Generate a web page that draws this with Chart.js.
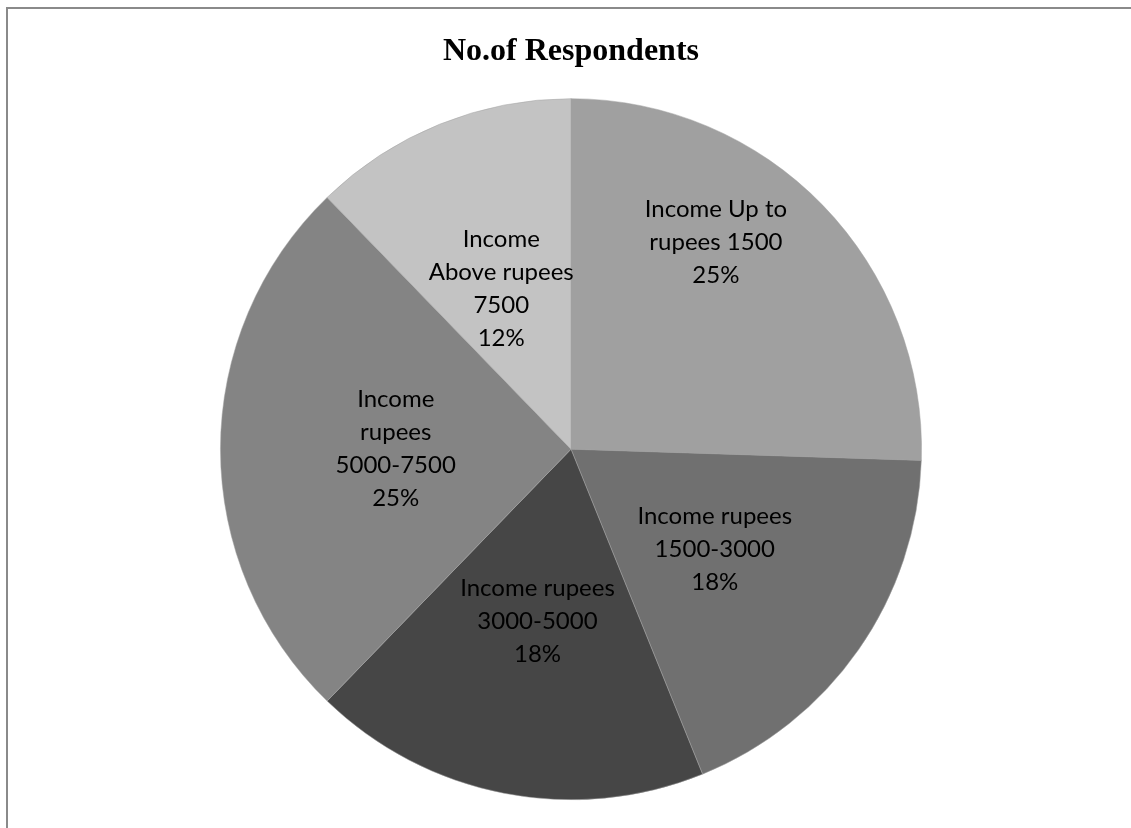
<!DOCTYPE html>
<html>
<head>
<meta charset="utf-8">
<title>No.of Respondents</title>
<script src="https://cdn.jsdelivr.net/npm/chart.js@4.4.1/dist/chart.umd.min.js"></script>
<style>
  html, body { margin: 0; padding: 0; background: #fff; overflow: hidden; }
  .frame {
    position: absolute; left: 6px; top: 7px; width: 1200px; height: 900px;
    border-left: 2px solid #8a8a8a; border-top: 2px solid #8a8a8a;
  }
  #pieChart { position: absolute; left: 0; top: 0; }
</style>
</head>
<body>
<div class="frame"></div>
<canvas id="pieChart" width="1131" height="828"></canvas>
<script>
// income groups, clockwise from 12 o'clock
const categories = [
  ['Income Up to', 'rupees 1500'],
  ['Income rupees', '1500-3000'],
  ['Income rupees', '3000-5000'],
  ['Income', 'rupees', '5000-7500'],
  ['Income', 'Above rupees', '7500']
];
const respondents = [25, 18, 18, 25, 12];
const sliceColors = ['#a0a0a0', '#707070', '#464646', '#848484', '#c3c3c3'];

// label text inside each slice: name lines + percentage
const sliceLabels = {
  id: 'sliceLabels',
  afterDatasetsDraw(chart, args, opts) {
    const ctx = chart.ctx;
    const meta = chart.getDatasetMeta(0);
    ctx.save();
    ctx.font = opts.font;
    ctx.fillStyle = '#000';
    ctx.textAlign = 'center';
    ctx.textBaseline = 'middle';
    meta.data.forEach((arc, i) => {
      const mid = (arc.startAngle + arc.endAngle) / 2;
      const r = arc.outerRadius * 0.5;
      const nudge = opts.nudge[i] || [0, 0];
      const x = arc.x + Math.cos(mid) * r + nudge[0];
      const y = arc.y + Math.sin(mid) * r + nudge[1];
      const lines = categories[i].concat([respondents[i] + '%']);
      const top = y - (lines.length - 1) * opts.lineHeight / 2;
      lines.forEach((t, k) => ctx.fillText(t, x, top + k * opts.lineHeight));
    });
    ctx.restore();
  }
};

new Chart(document.getElementById('pieChart'), {
  type: 'pie',
  data: {
    labels: categories.map(c => c.join(' ')),
    datasets: [{
      data: respondents,
      backgroundColor: sliceColors,
      borderColor: '#a2a2a2',
      borderWidth: 0.5
    }]
  },
  options: {
    responsive: false,
    animation: false,
    layout: { padding: { left: 11, right: 0, top: 0, bottom: 28 } },
    plugins: {
      legend: { display: false },
      tooltip: { enabled: false },
      title: {
        display: true,
        text: 'No.of Respondents',
        color: '#000',
        font: { family: '"Liberation Serif", "Times New Roman", serif', size: 32, weight: 'bold' },
        padding: { top: 33, bottom: 27 }
      },
      sliceLabels: {
        font: '24px Lato, "Open Sans", sans-serif',
        lineHeight: 33,
        nudge: [[19, -85], [0, 0], [0, 0], [0, 0], [-4, 2]]
      }
    }
  },
  plugins: [sliceLabels]
});
</script>
</body>
</html>
